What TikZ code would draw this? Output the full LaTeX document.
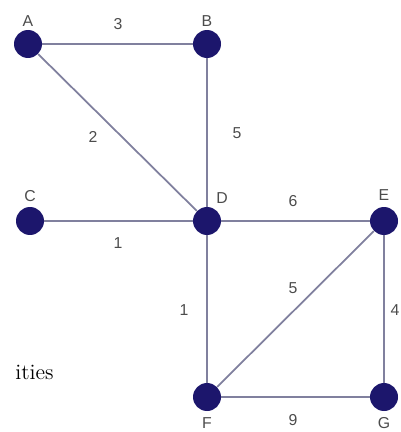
\documentclass[tikz,border=0pt]{standalone}
\usepackage{fontspec}
\newfontfamily\lblfont{Liberation Sans}
\definecolor{vertblue}{RGB}{28,22,108}
\definecolor{edgegrey}{RGB}{128,128,158}

\begin{document}
\begin{tikzpicture}[x=0.02cm,y=-0.02cm,
  vtx/.style={circle,fill=vertblue,inner sep=0pt,minimum size=0.56cm},
  lbl/.style={font=\lblfont\fontsize{9}{10}\selectfont,text=black!70,inner sep=0pt},
  link/.style={draw=edgegrey,line width=1pt}]
\useasboundingbox (0,0) rectangle (400,432);
\clip (0,0) rectangle (400,432);
% vertices
\node[vtx] (A) at (28,44) {};
\node[vtx] (B) at (207,44) {};
\node[vtx] (C) at (30,221) {};
\node[vtx] (D) at (207,221) {};
\node[vtx] (E) at (384,221) {};
\node[vtx] (F) at (207,397) {};
\node[vtx] (G) at (384,397) {};
% edges
\draw[link] (A)--(B);
\draw[link] (A)--(D);
\draw[link] (B)--(D);
\draw[link] (C)--(D);
\draw[link] (D)--(E);
\draw[link] (D)--(F);
\draw[link] (E)--(F);
\draw[link] (E)--(G);
\draw[link] (F)--(G);
% vertex names
\node[lbl] (nA) at (28,21) {A};
\node[lbl] (nB) at (207,21) {B};
\node[lbl] (nC) at (30,196) {C};
\node[lbl] (nD) at (222,198) {D};
\node[lbl] (nE) at (384,195) {E};
\node[lbl] (nF) at (207,423) {F};
\node[lbl] (nG) at (384,423) {G};
% weights
\node[lbl] (wAB) at (118,24) {3};
\node[lbl] (wAD) at (93,137) {2};
\node[lbl] (wBD) at (237,133) {5};
\node[lbl] (wCD) at (118,243) {1};
\node[lbl] (wDE) at (293,201) {6};
\node[lbl] (wEF) at (293,288) {5};
\node[lbl] (wDF) at (184,310) {1};
\node[lbl] (wEG) at (395,310) {4};
\node[lbl] (wFG) at (293,420) {9};
\node[font=\fontsize{12.5}{14}\selectfont,anchor=base east,inner sep=0pt] (txt) at (54,379) {ities};
\end{tikzpicture}
\end{document}
